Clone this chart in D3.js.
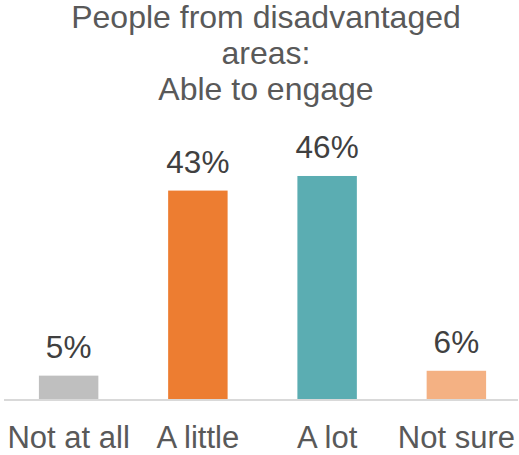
<!DOCTYPE html>
<html>
<head>
<meta charset="utf-8">
<script src="https://cdn.jsdelivr.net/npm/d3@7"></script>
<style>
  body { margin: 0; background: #fff; }
  text { font-family: "Liberation Sans", Arial, sans-serif; }
</style>
</head>
<body>
<div id="chart"></div>
<script>
var titleLines = ['People from disadvantaged', 'areas:', 'Able to engage'];
var categories = ['Not at all', 'A little', 'A lot', 'Not sure'];
var values = [5, 43, 46, 6];
var colors = ['#BFBFBF', '#ED7D31', '#5BADB2', '#F4B183'];

var width = 519, height = 455;

var svg = d3.select('#chart').append('svg')
            .attr('width', width)
            .attr('height', height);

var x = d3.scaleBand()
          .domain(categories)
          .range([4, 521])
          .paddingInner(0.54)
          .paddingOuter(0.27);

// 0% sits on the axis line, roughly 4.87px per percent
var y = d3.scaleLinear()
          .domain([0, 50])
          .range([400, 156.5]);

// title
svg.append('g').selectAll('text')
   .data(titleLines)
   .enter()
   .append('text')
   .attr('x', 266)
   .attr('y', function (d, i) { return 28 + i * 36; })
   .attr('text-anchor', 'middle')
   .style('font-size', '32px')
   .style('fill', '#595959')
   .text(function (d) { return d; });

// bars
svg.append('g').selectAll('rect')
   .data(values)
   .enter()
   .append('rect')
   .attr('x', function (d, i) { return x(categories[i]); })
   .attr('y', function (d) { return y(d); })
   .attr('width', x.bandwidth())
   .attr('height', function (d) { return y(0) - y(d); })
   .style('fill', function (d, i) { return colors[i]; });

// value labels
svg.append('g').selectAll('text')
   .data(values)
   .enter()
   .append('text')
   .attr('x', function (d, i) { return x(categories[i]) + x.bandwidth() / 2; })
   .attr('y', function (d) { return y(d) - 17.5; })
   .attr('text-anchor', 'middle')
   .style('font-size', '31.5px')
   .style('fill', '#404040')
   .text(function (d) { return d + '%'; });

// x axis
var xAxis = d3.axisBottom(x).tickSize(0).tickPadding(25.5);
var axisG = svg.append('g')
               .attr('transform', 'translate(0,400)')
               .call(xAxis);
axisG.select('.domain')
     .attr('d', 'M4,0H518')
     .style('stroke', '#D9D9D9')
     .style('stroke-width', 2);
axisG.selectAll('text')
     .style('font-size', '31px')
     .style('font-family', '"Liberation Sans", Arial, sans-serif')
     .style('fill', '#595959');
</script>
</body>
</html>
